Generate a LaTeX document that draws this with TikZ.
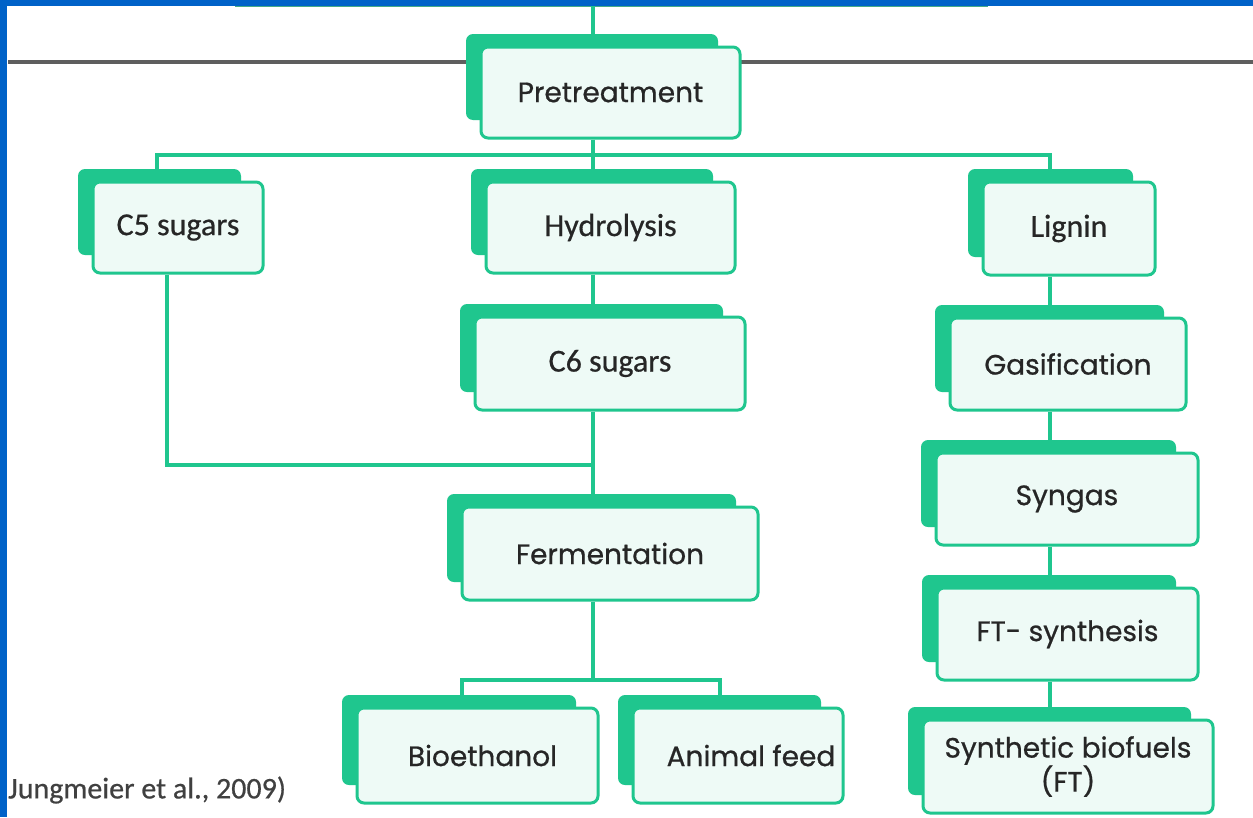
\documentclass[tikz,border=0pt]{standalone}
\usepackage{fontspec}
\setmainfont{Poppins}
\newfontfamily\popm{Poppins}[FakeBold=0.7]
\newfontfamily\calib{Carlito}[FakeBold=0.6]
\definecolor{teal1}{HTML}{1FC68E}
\definecolor{paleface}{HTML}{EEFAF6}
\definecolor{slateline}{HTML}{5E5E5E}
\definecolor{frameblue}{HTML}{0062C8}
\tikzset{
  backbox/.style={fill=teal1, rounded corners=7pt, inner sep=0pt},
  frontbox/.style={fill=paleface, draw=teal1, line width=3pt, rounded corners=7pt, inner sep=0pt, align=center, text=black!85, font=\popm\fontsize{28}{34}\selectfont},
  cbtext/.style={font=\calib\fontsize{32}{36}\selectfont},
  link/.style={draw=teal1, line width=3.5pt},
}
% #1 name, #2 fx1, #3 fy1, #4 fx2, #5 fy2, #6 text, #7 extra options
\newcommand\procpair[7]{%
  \node[backbox, minimum width={(#4-#2-7)*1pt}, minimum height={(#5-#3-5)*1pt}] (#1-b) at ({(#2-15+#4-22)/2},{(#3-13+#5-18)/2}) {};
  \node[frontbox, minimum width={(#4-#2)*1pt}, minimum height={(#5-#3)*1pt}, #7] (#1) at ({(#2+#4)/2},{(#3+#5)/2}) {#6};
}
\begin{document}
\begin{tikzpicture}[x=1pt,y=-1pt]
\useasboundingbox (0,0) rectangle (1253,817);
\fill[white] (0,0) rectangle (1253,817);
% top box remnant
\fill[paleface] (235,0) rectangle (988,7);
\draw[teal1!60!gray, line width=1.5pt] (235,6.5) -- (988,6.5);
% grey rule
\draw[slateline, line width=4.5pt] (8,62) -- (1253,62);
% frame
\fill[frameblue] (0,0) rectangle (1253,6);
\fill[frameblue] (0,0) rectangle (7,817);
\coordinate (topc) at (593,6);

\procpair{pre}{481}{47}{740}{138}{Pretreatment}{}
\procpair{c5}{93}{182}{263}{273}{C5 sugars}{cbtext}
\procpair{hyd}{486}{182}{735}{273}{Hydrolysis}{cbtext}
\procpair{lig}{983}{182}{1155}{275}{Lignin}{cbtext}
\procpair{c6}{475}{317}{745}{410}{C6 sugars}{cbtext}
\procpair{fer}{462}{507}{758}{600}{Fermentation}{}
\procpair{bio}{357}{708}{598}{803}{\hspace*{10pt}Bioethanol}{}
\procpair{ani}{633}{708}{843}{803}{\hspace*{26pt}Animal feed}{}
\procpair{gas}{950}{318}{1186}{410}{Gasification}{}
\procpair{syn}{936}{453}{1198}{545}{Syngas}{}
\procpair{fts}{937}{588}{1198}{680}{FT- synthesis}{}
\procpair{sbf}{923}{720}{1213}{813}{Synthetic biofuels\\(FT)}{}

\node[anchor=west, font=\calib\fontsize{30}{33}\selectfont, text=black!75, inner sep=0pt] (cite) at (8,790) {Jungmeier et al., 2009)};

% connectors
\draw[link] (topc) -- (topc |- pre-b.north);
\coordinate (j1) at (593,155);
\draw[link] (pre.south -| j1) -- (j1);
\draw[link] (c5-b.north -| 157,0) |- (j1) -| (lig-b.north -| 1050,0);
\draw[link] (j1) -- (hyd-b.north -| j1);
\draw[link] (hyd.south -| j1) -- (c6-b.north -| j1);
\draw[link] (c6.south -| j1) -- (fer-b.north -| j1);
\coordinate (j2) at (593,465);
\draw[link] (c5.south -| 167,0) |- (j2);
\coordinate (j3) at (593,680);
\draw[link] (fer.south -| j3) -- (j3);
\draw[link] (bio-b.north -| 462,0) |- (j3) -| (ani-b.north -| 720,0);
\draw[link] (lig.south -| 1050,0) -- (gas-b.north -| 1050,0);
\draw[link] (gas.south -| 1050,0) -- (syn-b.north -| 1050,0);
\draw[link] (syn.south -| 1050,0) -- (fts-b.north -| 1050,0);
\draw[link] (fts.south -| 1050,0) -- (sbf-b.north -| 1050,0);
\end{tikzpicture}
\end{document}
